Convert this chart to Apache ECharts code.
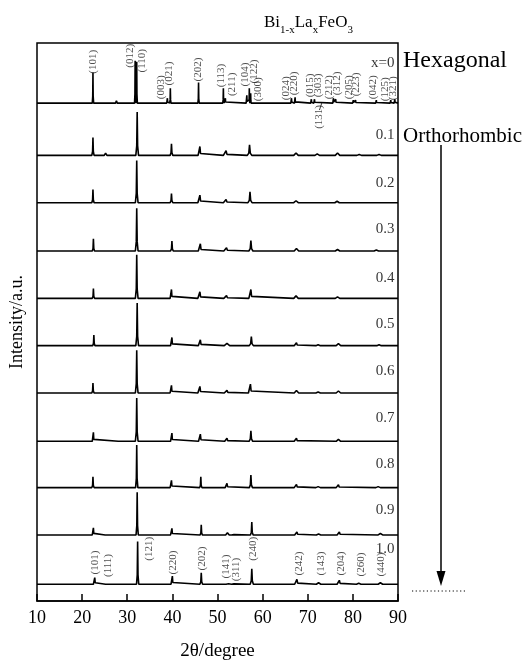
<!DOCTYPE html>
<html><head><meta charset="utf-8">
<script src="https://cdn.jsdelivr.net/npm/echarts@6/dist/echarts.min.js"></script>
<style>html,body{margin:0;padding:0;background:#fff}#c{width:528px;height:666px}</style>
</head><body><div id="c"></div>
<script>
const FONT = '"Liberation Serif","Times New Roman",serif';

// sample names (La content x)
const samples = ['x=0','0.1','0.2','0.3','0.4','0.5','0.6','0.7','0.8','0.9','1.0'];
// vertical stacking offsets of each pattern (arbitrary intensity units)
const offsets = [505, 452, 404, 355, 307, 259, 211, 162, 115, 67, 17];
// where each sample name sits above its baseline
const nameHeights = [41, 21, 20, 22, 21, 22, 22, 24, 24, 25, 36];

// peaks: [2theta, intensity, half width]
const peaks_x00 = [[22.4,31,0.15],[27.6,2.5,0.2],[31.75,43,0.14],[32.1,42,0.14],[38.9,5,0.15],[39.55,15,0.15],[45.8,21,0.15],[51.3,15,0.15],[51.75,5,0.12],[56.5,8,0.15],[57.05,15,0.12],[57.35,10,0.12],[66.4,5,0.15],[67.2,6,0.15],[70.8,4,0.15],[71.5,4,0.15],[75.7,5,0.15],[76.2,4,0.15],[80.1,3,0.15],[80.6,3,0.15],[85.2,3,0.15],[88.4,3,0.15],[89.3,4,0.15]];
const peaks_x01 = [[22.4,18,0.25],[25.2,2.3,0.3],[28.4,2,0.3],[32.2,44,0.3],[39.8,11.7,0.3],[46.1,9,0.4],[51.9,4.7,0.6],[57.1,10.7,0.5],[67.4,2.5,0.5],[72.1,1.5,0.5],[76.6,2.5,0.5],[81.4,1,0.5],[85.8,1,0.5]];
const peaks_x02 = [[22.4,13.3,0.25],[25.2,2,0.3],[28.3,2,0.3],[32.1,42.7,0.3],[39.8,9.3,0.3],[46.1,7.7,0.45],[51.9,3.3,0.6],[57.2,11,0.45],[67.4,2,0.5],[76.5,1.5,0.5]];
const peaks_x03 = [[22.5,12.3,0.25],[25.3,1.5,0.3],[28.3,1,0.3],[32.1,43.3,0.3],[39.9,10,0.3],[46.2,7.3,0.45],[52.0,3.3,0.6],[57.4,10.7,0.45],[67.5,2.5,0.5],[76.6,1.5,0.5],[85.2,1,0.5]];
const peaks_x04 = [[22.5,10,0.25],[25.3,1,0.3],[28.3,1,0.3],[32.1,44.3,0.3],[39.8,9,0.3],[46.1,6.7,0.45],[52.0,2.7,0.6],[57.4,9,0.45],[67.4,2.5,0.5],[76.6,1.5,0.5]];
const peaks_x05 = [[22.6,10.7,0.25],[32.2,43.3,0.3],[39.9,8.3,0.3],[46.2,6,0.45],[52.1,2.3,0.6],[57.5,9.3,0.45],[67.5,3,0.5],[72.3,1,0.5],[76.8,2,0.5],[85.8,1,0.5]];
const peaks_x06 = [[22.4,10,0.25],[32.1,43.3,0.3],[39.8,7.7,0.3],[46.1,6.7,0.45],[52.1,2.7,0.6],[57.3,9,0.45],[67.5,2.5,0.5],[72.3,1,0.5],[76.8,2,0.5]];
const peaks_x07 = [[22.5,9,0.25],[28.3,1,0.3],[32.1,44,0.3],[39.9,8.3,0.3],[46.2,7.3,0.4],[52.1,3,0.5],[57.4,10.7,0.4],[67.5,3,0.5],[76.8,2,0.5]];
const peaks_x08 = [[22.4,11,0.25],[25.4,1,0.3],[28.3,1,0.3],[32.1,43.3,0.25],[39.8,7.3,0.3],[46.3,11,0.25],[52.1,4.3,0.4],[57.4,12.7,0.35],[67.5,3.3,0.5],[72.3,1,0.5],[76.8,3,0.5],[85.6,1,0.5]];
const peaks_x09 = [[22.5,7.3,0.25],[25.4,1,0.3],[32.2,43.3,0.25],[39.9,6.7,0.3],[46.4,10.3,0.25],[47.8,1,0.3],[52.2,2.3,0.4],[53.5,1.5,0.4],[57.6,13,0.3],[67.6,3,0.5],[72.4,1,0.5],[77.0,3,0.5],[86.1,1.5,0.5]];
const peaks_x10 = [[22.8,6.7,0.3],[25.5,1.5,0.3],[32.3,43.3,0.25],[40.0,8.3,0.3],[46.4,11.7,0.3],[47.8,1,0.3],[52.3,2,0.4],[53.5,1.5,0.4],[57.6,15.7,0.35],[67.6,5,0.5],[72.4,1.5,0.5],[77.0,4,0.5],[81.3,1,0.5],[86.1,1.5,0.5]];
const allPeaks = [peaks_x00,peaks_x01,peaks_x02,peaks_x03,peaks_x04,peaks_x05,peaks_x06,peaks_x07,peaks_x08,peaks_x09,peaks_x10];

// Miller index labels: [text, 2theta, height above baseline]
const hexLabels = [['(101)',22.5,42],['(012)',30.6,48],['(110)',33.2,43],['(003)',37.5,16],['(021)',39.3,30],['(202)',45.7,34],['(113)',50.8,28],['(211)',53.2,19],['(104)',56.2,29],['(300)',58.9,14],['(122)',58.2,32],['(024)',65.2,15],['(220)',67.0,20],['(015)',70.5,18],['(303)',72.3,18],['(131)',72.5,-14],['(212)',74.7,16],['(312)',76.4,20],['(205)',79.1,16],['(223)',80.8,19],['(042)',84.5,16],['(125)',87.2,14],['(321)',89.0,15]];
const orthoLabels = [['(101)',22.9,22],['(111)',25.7,19],['(121)',34.8,36],['(220)',40.1,22],['(202)',46.7,26],['(141)',52.0,18],['(311)',54.2,15],['(240)',57.9,36],['(242)',68.0,21],['(143)',72.9,21],['(204)',77.5,21],['(260)',81.9,20],['(440)',86.3,20]];

function profile(pk, off){
  const pts = [[10,0]];
  pk.forEach(([p,h,w]) => {
    pts.push([p-w,0],[p-w/3,h*0.22],[p,h],[p+w/3,h*0.22],[p+w,0]);
  });
  pts.push([90,0]);
  pts.sort((a,b)=>a[0]-b[0]);
  return pts.map(([x,y]) => [x, y+off]);
}

const series = [];
allPeaks.forEach((pk,i) => {
  series.push({type:'line', data: profile(pk, offsets[i]), showSymbol:false, silent:true,
    lineStyle:{color:'#000', width:1.6}, z:3});
});
const labelStyle = {show:true, rotate:90, fontFamily:FONT, fontSize:11, color:'#222',
  position:[0,0], align:'center', verticalAlign:'middle', formatter: p => p.value[2]};
series.push({type:'scatter', symbolSize:0, silent:true, z:5, label:labelStyle,
  data: hexLabels.map(([t,x,h]) => [x, offsets[0]+h, t])});
series.push({type:'scatter', symbolSize:0, silent:true, z:5, label:labelStyle,
  data: orthoLabels.map(([t,x,h]) => [x, offsets[10]+h, t])});
// leader for (131)
series.push({type:'line', showSymbol:false, silent:true, lineStyle:{color:'#000',width:0.8},
  data: [[72.6, offsets[0]-7], [73.1, offsets[0]]]});
series.push({type:'scatter', symbolSize:0, silent:true, z:5,
  label:{show:true, position:'left', distance:0, fontFamily:FONT, fontSize:15, color:'#000', formatter:p=>p.value[2]},
  data: samples.map((s,i) => [89.2, offsets[i]+nameHeights[i], s])});

const option = {
  animation:false,
  backgroundColor:'#fff',
  title:{text:'Bi{s|1-x}La{s|x}FeO{s|3}', left:259, top:4,
    textStyle:{fontFamily:FONT, fontSize:17, fontWeight:'normal', color:'#000',
      rich:{s:{fontFamily:FONT, fontSize:11, verticalAlign:'bottom', lineHeight:27}}}},
  grid:{left:35, right:130, top:43, bottom:57, show:true, borderColor:'#000', borderWidth:1.5, backgroundColor:'transparent'},
  xAxis:{type:'value', min:10, max:90, interval:10,
    name:'2θ/degree', nameLocation:'middle', nameGap:41,
    nameTextStyle:{fontFamily:FONT, fontSize:19, color:'#000'},
    axisLine:{lineStyle:{color:'#000', width:1.5}},
    axisTick:{inside:true, length:7, lineStyle:{color:'#000', width:1.5}},
    axisLabel:{fontFamily:FONT, fontSize:18, color:'#000', margin:8},
    splitLine:{show:false}},
  yAxis:{type:'value', min:0, max:566,
    name:'Intensity/a.u.', nameLocation:'middle', nameGap:11,
    nameTextStyle:{fontFamily:FONT, fontSize:18, color:'#000'},
    axisLine:{show:false}, axisTick:{show:false}, axisLabel:{show:false}, splitLine:{show:false}},
  graphic:[
    {type:'text', left:403, top:49, style:{text:'Hexagonal', font:'24px '+FONT, fill:'#000'}},
    {type:'text', left:403, top:126, style:{text:'Orthorhombic', font:'21px '+FONT, fill:'#000'}},
    {type:'line', shape:{x1:441, y1:145, x2:441, y2:576}, style:{stroke:'#000', lineWidth:1.5}},
    {type:'polygon', shape:{points:[[436.5,571],[445.5,571],[441,586]]}, style:{fill:'#000'}},
    {type:'line', shape:{x1:412, y1:591, x2:466, y2:591}, style:{stroke:'#000', lineWidth:1, lineDash:[1.2,2.5]}}
  ],
  series
};
const chart = echarts.init(document.getElementById('c'), null, {renderer:'canvas'});
chart.setOption(option);
</script></body></html>
